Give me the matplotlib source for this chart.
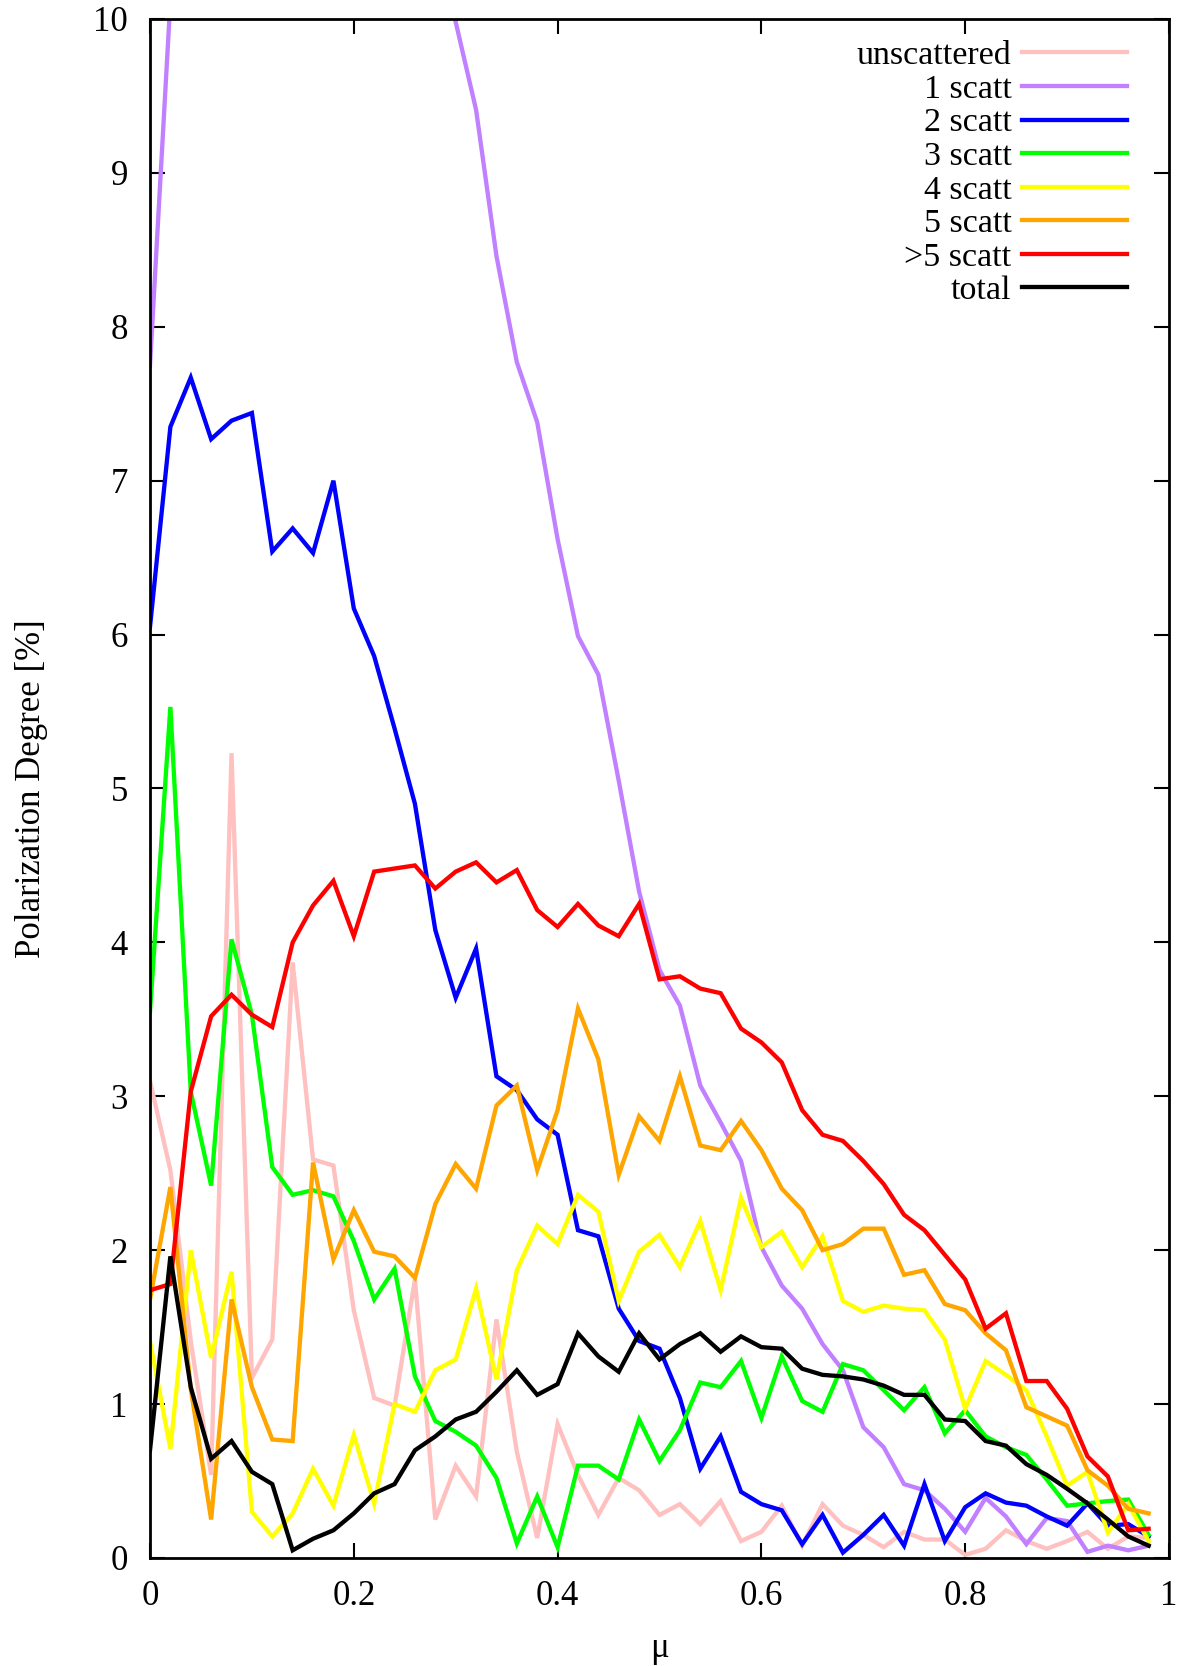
import numpy as np
import matplotlib
matplotlib.use("Agg")
import matplotlib.pyplot as plt

plt.rcParams['font.family'] = ['Liberation Serif', 'DejaVu Serif']

# cosine of the emission angle, bins of width 0.02
mu = np.arange(50) * 0.02

unscattered = [3.10, 2.52, 1.41, 0.54, 5.23, 1.17, 1.42, 3.87, 2.59, 2.55,
               1.61, 1.04, 0.99, 1.81, 0.25, 0.60, 0.40, 1.55, 0.69, 0.13,
               0.87, 0.54, 0.28, 0.52, 0.44, 0.28, 0.35, 0.22, 0.37, 0.11,
               0.17, 0.34, 0.08, 0.35, 0.21, 0.15, 0.07, 0.17, 0.12, 0.12,
               0.02, 0.06, 0.18, 0.11, 0.06, 0.11, 0.17, 0.06, 0.14, 0.13]
scatt1 = [7.75, 10.12, 11.5, 12.4, 13.0, 13.6, 14.0, 14.2, 14.1, 13.8,
          13.2, 12.6, 11.9, 11.3, 10.7, 9.98, 9.41, 8.46, 7.77, 7.38,
          6.62, 5.99, 5.74, 5.05, 4.33, 3.82, 3.59, 3.07, 2.83, 2.58,
          2.02, 1.77, 1.62, 1.39, 1.22, 0.85, 0.72, 0.48, 0.44, 0.32,
          0.17, 0.39, 0.27, 0.09, 0.26, 0.24, 0.04, 0.08, 0.05, 0.08]
scatt2 = [6.05, 7.35, 7.67, 7.27, 7.39, 7.44, 6.54, 6.69, 6.53, 7.00,
          6.17, 5.86, 5.39, 4.90, 4.08, 3.64, 3.96, 3.13, 3.04, 2.85,
          2.75, 2.13, 2.09, 1.62, 1.41, 1.36, 1.04, 0.58, 0.79, 0.43,
          0.35, 0.31, 0.09, 0.28, 0.035, 0.15, 0.28, 0.08, 0.48, 0.11,
          0.33, 0.42, 0.36, 0.34, 0.27, 0.21, 0.355, 0.21, 0.22, 0.14]
scatt3 = [3.55, 5.53, 3.03, 2.42, 4.02, 3.53, 2.54, 2.36, 2.39, 2.35,
          2.06, 1.68, 1.88, 1.18, 0.89, 0.82, 0.73, 0.52, 0.095, 0.40,
          0.07, 0.60, 0.60, 0.51, 0.90, 0.63, 0.83, 1.14, 1.11, 1.28,
          0.91, 1.31, 1.02, 0.95, 1.26, 1.22, 1.09, 0.96, 1.11, 0.81,
          0.96, 0.79, 0.72, 0.67, 0.51, 0.34, 0.355, 0.37, 0.38, 0.15]
scatt4 = [1.41, 0.71, 2.00, 1.30, 1.86, 0.30, 0.14, 0.29, 0.58, 0.34,
          0.80, 0.355, 1.00, 0.95, 1.22, 1.29, 1.75, 1.16, 1.87, 2.16,
          2.04, 2.36, 2.25, 1.67, 1.99, 2.10, 1.89, 2.19, 1.74, 2.34,
          2.02, 2.12, 1.89, 2.09, 1.67, 1.60, 1.64, 1.62, 1.61, 1.42,
          0.97, 1.28, 1.19, 1.09, 0.79, 0.47, 0.56, 0.165, 0.35, 0.11]
scatt5 = [1.68, 2.41, 1.10, 0.25, 1.68, 1.11, 0.77, 0.76, 2.57, 1.94,
          2.26, 1.99, 1.96, 1.82, 2.30, 2.56, 2.40, 2.94, 3.07, 2.52,
          2.91, 3.57, 3.24, 2.49, 2.87, 2.71, 3.13, 2.68, 2.65, 2.84,
          2.65, 2.40, 2.26, 2.00, 2.04, 2.14, 2.14, 1.84, 1.87, 1.65,
          1.61, 1.46, 1.35, 0.98, 0.92, 0.86, 0.57, 0.47, 0.32, 0.29]
scatt_more = [1.74, 1.78, 3.03, 3.52, 3.66, 3.53, 3.45, 4.00, 4.24, 4.40,
              4.04, 4.46, 4.48, 4.50, 4.35, 4.46, 4.52, 4.39, 4.47, 4.21,
              4.10, 4.25, 4.11, 4.04, 4.25, 3.76, 3.78, 3.70, 3.67, 3.44,
              3.35, 3.22, 2.91, 2.75, 2.71, 2.58, 2.43, 2.23, 2.13, 1.97,
              1.81, 1.49, 1.59, 1.15, 1.15, 0.97, 0.66, 0.53, 0.18, 0.19]
total = [0.70, 1.96, 1.11, 0.645, 0.76, 0.56, 0.48, 0.05, 0.125, 0.18,
         0.29, 0.42, 0.48, 0.70, 0.79, 0.90, 0.95, 1.08, 1.22, 1.06,
         1.13, 1.46, 1.31, 1.21, 1.46, 1.29, 1.39, 1.46, 1.34, 1.44,
         1.37, 1.36, 1.23, 1.19, 1.18, 1.16, 1.12, 1.06, 1.06, 0.90,
         0.89, 0.76, 0.73, 0.61, 0.54, 0.45, 0.355, 0.25, 0.14, 0.08]

labels = ["unscattered", "1 scatt", "2 scatt", "3 scatt",
          "4 scatt", "5 scatt", ">5 scatt", "total"]
series = [unscattered, scatt1, scatt2, scatt3, scatt4, scatt5, scatt_more, total]
colors = ["#ffc0c0", "#c080ff", "#0000ff", "#00ff00",
          "#ffff00", "#ffa500", "#ff0000", "#000000"]

fig = plt.figure(figsize=(11.84, 16.66), dpi=100)
ax = fig.add_axes([150 / 1184, 1 - 1558 / 1666, 1019 / 1184, 1539 / 1666])

for y, c, lab in zip(series, colors, labels):
    ax.plot(mu, y, color=c, lw=3.1, label=lab, solid_joinstyle='miter')

ax.set_xlim(0, 1)
ax.set_ylim(0, 10)
ax.set_xticks([0, 0.2, 0.4, 0.6, 0.8, 1])
ax.set_xticklabels(["0", "0.2", "0.4", "0.6", "0.8", "1"])
ax.set_yticks(range(0, 11))
ax.tick_params(direction='in', length=11, width=1.5, top=True, right=True,
               labelsize=25, pad=16)
for s in ax.spines.values():
    s.set_linewidth(2)

ax.set_xlabel("μ", fontsize=25)
ax.xaxis.set_label_coords(0.5, -0.048)
ax.set_ylabel("Polarization Degree [%]", fontsize=25)
ax.yaxis.set_label_coords(-0.1, 0.5)

leg = ax.legend(loc='upper right', bbox_to_anchor=(0.959, 0.986), frameon=False,
                markerfirst=False, fontsize=24.5, handlelength=3.1,
                handletextpad=0.3, labelspacing=0.08, borderpad=0,
                borderaxespad=0)

fig.savefig("out.png", dpi=100)
